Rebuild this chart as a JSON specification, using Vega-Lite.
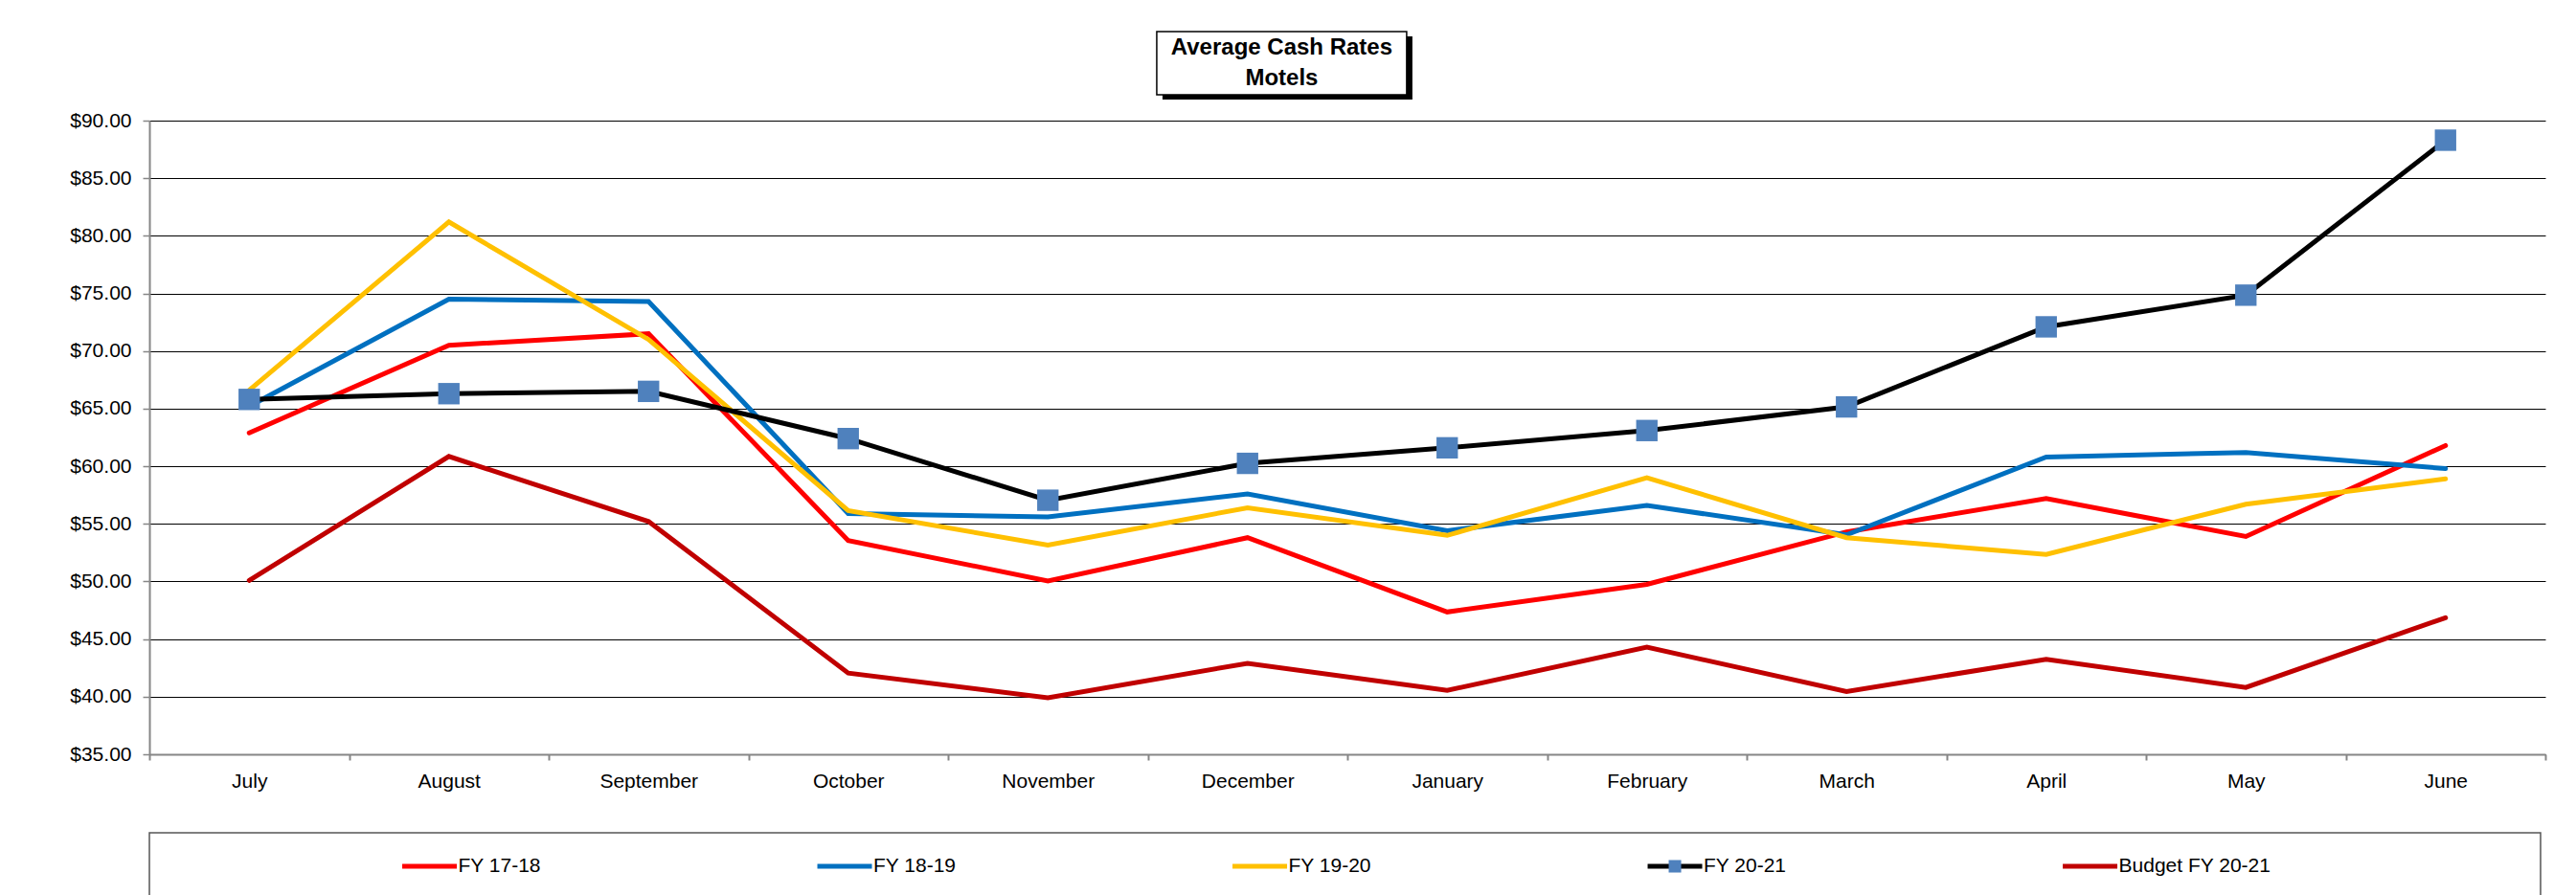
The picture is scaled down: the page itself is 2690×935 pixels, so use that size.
{
  "$schema": "https://vega.github.io/schema/vega-lite/v6.json",
  "padding": {"left": 72, "top": 32, "right": 10, "bottom": 0},
  "background": "white",
  "spacing": 27,
  "bounds": "flush",
  "config": {
    "view": {"stroke": null},
    "font": "Liberation Sans",
    "text": {"font": "Liberation Sans", "color": "#000000"},
    "axis": {"labelFont": "Liberation Sans", "labelColor": "#000000", "labelFontSize": 21}
  },
  "datasets": {
    "rates": [
      {"series": "FY 17-18", "month": "July", "value": 62.9},
      {"series": "FY 17-18", "month": "August", "value": 70.5},
      {"series": "FY 17-18", "month": "September", "value": 71.5},
      {"series": "FY 17-18", "month": "October", "value": 53.55},
      {"series": "FY 17-18", "month": "November", "value": 50.05},
      {"series": "FY 17-18", "month": "December", "value": 53.8},
      {"series": "FY 17-18", "month": "January", "value": 47.35},
      {"series": "FY 17-18", "month": "February", "value": 49.75},
      {"series": "FY 17-18", "month": "March", "value": 54.3},
      {"series": "FY 17-18", "month": "April", "value": 57.2},
      {"series": "FY 17-18", "month": "May", "value": 53.9},
      {"series": "FY 17-18", "month": "June", "value": 61.8},
      {"series": "FY 18-19", "month": "July", "value": 65.2},
      {"series": "FY 18-19", "month": "August", "value": 74.5},
      {"series": "FY 18-19", "month": "September", "value": 74.3},
      {"series": "FY 18-19", "month": "October", "value": 55.9},
      {"series": "FY 18-19", "month": "November", "value": 55.6},
      {"series": "FY 18-19", "month": "December", "value": 57.6},
      {"series": "FY 18-19", "month": "January", "value": 54.4},
      {"series": "FY 18-19", "month": "February", "value": 56.6},
      {"series": "FY 18-19", "month": "March", "value": 54.05},
      {"series": "FY 18-19", "month": "April", "value": 60.8},
      {"series": "FY 18-19", "month": "May", "value": 61.2},
      {"series": "FY 18-19", "month": "June", "value": 59.8},
      {"series": "FY 19-20", "month": "July", "value": 66.6},
      {"series": "FY 19-20", "month": "August", "value": 81.2},
      {"series": "FY 19-20", "month": "September", "value": 71.0},
      {"series": "FY 19-20", "month": "October", "value": 56.15},
      {"series": "FY 19-20", "month": "November", "value": 53.15},
      {"series": "FY 19-20", "month": "December", "value": 56.4},
      {"series": "FY 19-20", "month": "January", "value": 54.0},
      {"series": "FY 19-20", "month": "February", "value": 59.0},
      {"series": "FY 19-20", "month": "March", "value": 53.8},
      {"series": "FY 19-20", "month": "April", "value": 52.35},
      {"series": "FY 19-20", "month": "May", "value": 56.7},
      {"series": "FY 19-20", "month": "June", "value": 58.9},
      {"series": "Budget FY 20-21", "month": "July", "value": 50.1},
      {"series": "Budget FY 20-21", "month": "August", "value": 60.85},
      {"series": "Budget FY 20-21", "month": "September", "value": 55.2},
      {"series": "Budget FY 20-21", "month": "October", "value": 42.05},
      {"series": "Budget FY 20-21", "month": "November", "value": 39.9},
      {"series": "Budget FY 20-21", "month": "December", "value": 42.9},
      {"series": "Budget FY 20-21", "month": "January", "value": 40.55},
      {"series": "Budget FY 20-21", "month": "February", "value": 44.3},
      {"series": "Budget FY 20-21", "month": "March", "value": 40.45},
      {"series": "Budget FY 20-21", "month": "April", "value": 43.25},
      {"series": "Budget FY 20-21", "month": "May", "value": 40.8},
      {"series": "Budget FY 20-21", "month": "June", "value": 46.85},
      {"series": "FY 20-21", "month": "July", "value": 65.8},
      {"series": "FY 20-21", "month": "August", "value": 66.3},
      {"series": "FY 20-21", "month": "September", "value": 66.5},
      {"series": "FY 20-21", "month": "October", "value": 62.4},
      {"series": "FY 20-21", "month": "November", "value": 57.05},
      {"series": "FY 20-21", "month": "December", "value": 60.25},
      {"series": "FY 20-21", "month": "January", "value": 61.6},
      {"series": "FY 20-21", "month": "February", "value": 63.1},
      {"series": "FY 20-21", "month": "March", "value": 65.15},
      {"series": "FY 20-21", "month": "April", "value": 72.1},
      {"series": "FY 20-21", "month": "May", "value": 74.85},
      {"series": "FY 20-21", "month": "June", "value": 88.3}
    ],
    "legendItems": [
      {"series": "FY 17-18", "box": "legend"},
      {"series": "FY 18-19", "box": "legend"},
      {"series": "FY 19-20", "box": "legend"},
      {"series": "FY 20-21", "box": "legend"},
      {"series": "Budget FY 20-21", "box": "legend"}
    ],
    "legendBox": [{"box": "legend"}],
    "titleBox": [{"box": "title"}],
    "titleLines": [
      {"box": "title", "line": "Average Cash Rates"},
      {"box": "title", "line": "Motels"}
    ]
  },
  "vconcat": [
    {
      "width": 2502,
      "height": 66,
      "resolve": {"scale": {"y": "independent"}},
      "layer": [
        {
          "data": {"name": "titleBox"},
          "mark": {"type": "rect", "fill": "#000000", "xOffset": 6, "yOffset": 5},
          "encoding": {
            "x": {"field": "box", "type": "nominal", "scale": {"type": "band", "paddingInner": 0.7671, "paddingOuter": 1, "align": 0.4694}, "axis": null},
            "y": {"field": "box", "type": "nominal", "scale": {"type": "band", "paddingInner": 0, "paddingOuter": 0}, "axis": null}
          }
        },
        {
          "data": {"name": "titleBox"},
          "mark": {"type": "rect", "fill": "#ffffff", "stroke": "#000000", "strokeWidth": 1.5},
          "encoding": {
            "x": {"field": "box", "type": "nominal", "scale": {"type": "band", "paddingInner": 0.7671, "paddingOuter": 1, "align": 0.4694}, "axis": null},
            "y": {"field": "box", "type": "nominal", "scale": {"type": "band", "paddingInner": 0, "paddingOuter": 0}, "axis": null}
          }
        },
        {
          "data": {"name": "titleLines"},
          "mark": {"type": "text", "fontSize": 24, "fontWeight": "bold", "baseline": "middle", "align": "center", "font": "Liberation Sans"},
          "encoding": {
            "x": {"field": "box", "type": "nominal", "scale": {"type": "band", "paddingInner": 0.7671, "paddingOuter": 1, "align": 0.4694}, "axis": null},
            "y": {"field": "line", "type": "nominal", "sort": null, "scale": {"type": "point", "padding": 0.54}, "axis": null},
            "text": {"field": "line"}
          }
        }
      ]
    },
    {
      "width": 2502,
      "height": 662,
      "data": {"name": "rates"},
      "layer": [
        {
          "mark": {"type": "line", "strokeWidth": 5, "strokeCap": "round"},
          "encoding": {
            "x": {
              "field": "month", "type": "ordinal",
              "sort": ["July", "August", "September", "October", "November", "December", "January", "February", "March", "April", "May", "June"],
              "scale": {"type": "band", "paddingInner": 0, "paddingOuter": 0},
              "axis": {"title": null, "labelAngle": 0, "labelFontSize": 21, "labelPadding": 11, "tickSize": 6, "tickColor": "#868686", "tickWidth": 2, "tickBand": "extent", "domainColor": "#868686", "domainWidth": 2, "grid": false}
            },
            "y": {
              "field": "value", "type": "quantitative",
              "scale": {"domain": [35, 90], "nice": false, "zero": false},
              "axis": {"title": null, "values": [35, 40, 45, 50, 55, 60, 65, 70, 75, 80, 85, 90], "format": "$.2f", "labelFontSize": 21, "labelPadding": 12, "tickSize": 7, "tickColor": "#868686", "tickWidth": 1.5, "domainColor": "#868686", "domainWidth": 2, "grid": true, "gridColor": "#000000", "gridWidth": 1}
            },
            "color": {
              "field": "series", "type": "nominal",
              "scale": {"domain": ["FY 17-18", "FY 18-19", "FY 19-20", "FY 20-21", "Budget FY 20-21"], "range": ["#FF0000", "#0070C0", "#FFC000", "#000000", "#C00000"]},
              "legend": null
            }
          }
        },
        {
          "transform": [{"filter": "datum.series === 'FY 20-21'"}],
          "mark": {"type": "point", "shape": "square", "size": 500, "filled": true, "color": "#4F81BD", "opacity": 1, "strokeWidth": 0},
          "encoding": {
            "x": {"field": "month", "type": "ordinal", "sort": ["July", "August", "September", "October", "November", "December", "January", "February", "March", "April", "May", "June"]},
            "y": {"field": "value", "type": "quantitative"}
          }
        }
      ]
    },
    {
      "width": 2497,
      "height": 125,
      "layer": [
        {
          "data": {"name": "legendBox"},
          "mark": {"type": "rect", "fill": "#ffffff", "stroke": "#555555", "strokeWidth": 1.5},
          "encoding": {
            "y": {"field": "box", "type": "nominal", "scale": {"type": "band", "paddingInner": 0, "paddingOuter": 0.393, "align": 1}, "axis": null}
          }
        },
        {
          "data": {"name": "legendItems"},
          "mark": {"type": "point", "shape": "stroke", "size": 3249, "strokeWidth": 5, "filled": false, "opacity": 1},
          "encoding": {
            "x": {"field": "series", "type": "nominal", "sort": null, "scale": {"type": "point", "padding": 0.88, "align": 0.3834}, "axis": null},
            "y": {"field": "box", "type": "nominal", "scale": {"type": "band", "paddingInner": 0, "paddingOuter": 0.393, "align": 1}, "axis": null},
            "color": {
              "field": "series", "type": "nominal",
              "scale": {"domain": ["FY 17-18", "FY 18-19", "FY 19-20", "FY 20-21", "Budget FY 20-21"], "range": ["#FF0000", "#0070C0", "#FFC000", "#000000", "#C00000"]},
              "legend": null
            }
          }
        },
        {
          "data": {"name": "legendItems"},
          "transform": [{"filter": "datum.series === 'FY 20-21'"}],
          "mark": {"type": "point", "shape": "square", "size": 170, "filled": true, "color": "#4F81BD", "opacity": 1, "strokeWidth": 0},
          "encoding": {
            "x": {"field": "series", "type": "nominal", "sort": null, "scale": {"type": "point", "padding": 0.88, "align": 0.3834}, "axis": null},
            "y": {"field": "box", "type": "nominal", "scale": {"type": "band", "paddingInner": 0, "paddingOuter": 0.393, "align": 1}, "axis": null}
          }
        },
        {
          "data": {"name": "legendItems"},
          "mark": {"type": "text", "align": "left", "baseline": "middle", "dx": 30, "fontSize": 21, "font": "Liberation Sans"},
          "encoding": {
            "x": {"field": "series", "type": "nominal", "sort": null, "scale": {"type": "point", "padding": 0.88, "align": 0.3834}, "axis": null},
            "y": {"field": "box", "type": "nominal", "scale": {"type": "band", "paddingInner": 0, "paddingOuter": 0.393, "align": 1}, "axis": null},
            "text": {"field": "series"}
          }
        }
      ]
    }
  ]
}
